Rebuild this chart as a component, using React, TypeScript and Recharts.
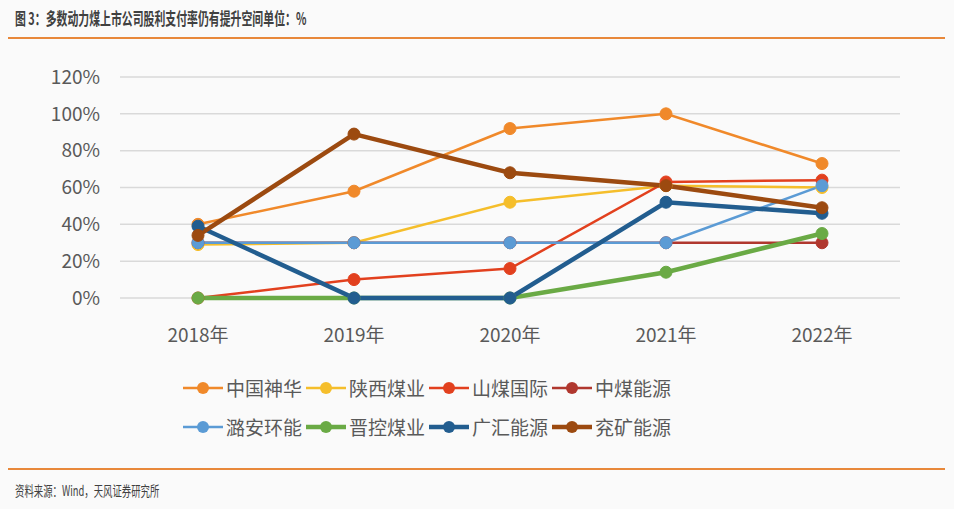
import { LineChart, Line, XAxis, YAxis, CartesianGrid } from "recharts";

// ─── Data ─────────────────────────────────────────────────────────────────────

const YEARS = ["2018年", "2019年", "2020年", "2021年", "2022年"];
const Y_TICKS = [0, 20, 40, 60, 80, 100, 120];

const SHENHUA = [40, 58, 92, 100, 73];
const SHAANXI = [29, 30, 52, 61, 60];
const SHANMEI = [0, 10, 16, 63, 64];
const ZHONGMEI = [30, 30, 30, 30, 30];
const LUAN = [30, 30, 30, 30, 61];
const JINKONG = [0, 0, 0, 14, 35];
const GUANGHUI = [39, 0, 0, 52, 46];
const YANKUANG = [34, 89, 68, 61, 49];

const SERIES = [
  { key: "中国神华", values: SHENHUA, color: "#F0892A", width: 2.5 },
  { key: "陕西煤业", values: SHAANXI, color: "#F5BE2B", width: 2.5 },
  { key: "山煤国际", values: SHANMEI, color: "#E2401E", width: 2.5 },
  { key: "中煤能源", values: ZHONGMEI, color: "#B0372E", width: 2.5 },
  { key: "潞安环能", values: LUAN, color: "#5B9BD5", width: 2.5 },
  { key: "晋控煤业", values: JINKONG, color: "#6AAA45", width: 4.5 },
  { key: "广汇能源", values: GUANGHUI, color: "#225D8F", width: 4.5 },
  { key: "兖矿能源", values: YANKUANG, color: "#9C4A10", width: 4.5 },
];

const rows = YEARS.map((year, i) => {
  const row: Record<string, string | number> = { year };
  SERIES.forEach((s) => (row[s.key] = s.values[i]));
  return row;
});

// ─── Styles ───────────────────────────────────────────────────────────────────

const FONT = "'Noto Sans CJK SC', 'Noto Sans', sans-serif";
const TICK = { fontFamily: FONT, fontSize: 19, fill: "#595959" };

function LegendItem({ label, color, width }: { label: string; color: string; width: number }) {
  return (
    <div style={{ display: "flex", alignItems: "center", width: 123 }}>
      <svg width={42} height={16}>
        <line x1={1} y1={8} x2={41} y2={8} stroke={color} strokeWidth={width} />
        <circle cx={21} cy={8} r={6} fill={color} />
      </svg>
      <span style={{ marginLeft: 2, fontSize: 19, color: "#595959", fontFamily: FONT }}>{label}</span>
    </div>
  );
}

export default function App() {
  return (
    <div
      style={{
        position: "absolute",
        left: 0,
        top: 0,
        width: 954,
        height: 509,
        background: "#FAFAFA",
        fontFamily: FONT,
        overflow: "hidden",
      }}
    >
      <div
        style={{
          position: "absolute",
          left: 15,
          top: 5,
          fontSize: 17,
          fontWeight: 700,
          color: "#404040",
          whiteSpace: "nowrap",
          transform: "scaleX(0.64)",
          transformOrigin: "left",
        }}
      >
        图 3：多数动力煤上市公司股利支付率仍有提升空间单位：%
      </div>
      <div style={{ position: "absolute", left: 8, top: 37, width: 937, height: 2, background: "#E8883A" }} />

      <div style={{ position: "absolute", left: 0, top: 0 }}>
        <LineChart width={954} height={360} data={rows} margin={{ top: 77, right: 54, bottom: 20, left: 0 }}>
          <CartesianGrid vertical={false} stroke="#D9D9D9" strokeWidth={1.5} />
          <XAxis
            dataKey="year"
            tick={TICK}
            axisLine={false}
            tickLine={false}
            height={42}
            tickMargin={25}
            padding={{ left: 78, right: 78 }}
          />
          <YAxis
            domain={[0, 120]}
            ticks={Y_TICKS}
            tick={TICK}
            tickFormatter={(v) => `${v}%`}
            axisLine={false}
            tickLine={false}
            width={120}
            tickMargin={14}
          />
          {SERIES.map((s) => (
            <Line
              key={s.key}
              dataKey={s.key}
              stroke={s.color}
              strokeWidth={s.width}
              dot={{ r: 6, fill: s.color, stroke: s.color, strokeWidth: 1 }}
              isAnimationActive={false}
            />
          ))}
        </LineChart>
      </div>

      <div style={{ position: "absolute", left: 182, top: 374, width: 500, display: "flex", flexWrap: "wrap", rowGap: 12 }}>
        {SERIES.map((s) => (
          <LegendItem key={s.key} label={s.key} color={s.color} width={s.width} />
        ))}
      </div>

      <div style={{ position: "absolute", left: 8, top: 468, width: 937, height: 2, background: "#E8883A" }} />
      <div
        style={{
          position: "absolute",
          left: 15,
          top: 480,
          fontSize: 14,
          color: "#404040",
          whiteSpace: "nowrap",
          transform: "scaleX(0.67)",
          transformOrigin: "left",
        }}
      >
        资料来源：Wind，天风证券研究所
      </div>
    </div>
  );
}
